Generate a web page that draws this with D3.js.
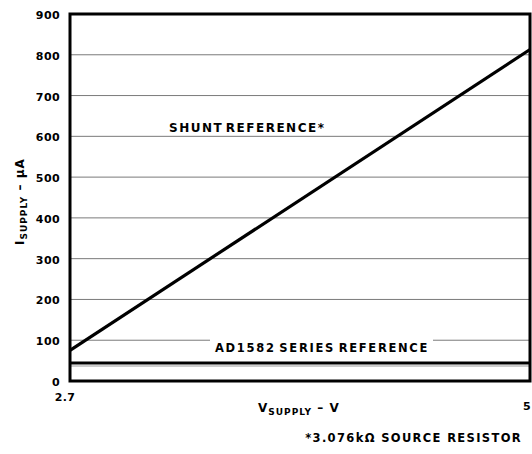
<!DOCTYPE html>
<html><head><meta charset="utf-8">
<script src="https://cdn.jsdelivr.net/npm/d3@7"></script>
<style>
body{margin:0;background:#fff;}
text{font-family:"DejaVu Sans",sans-serif;font-weight:bold;fill:#000;}
</style></head>
<body>
<svg id="c" width="532" height="454"></svg>
<script>
const yTicks = [0,100,200,300,400,500,600,700,800,900];
const xTicks = [2.7, 5];
const shuntV = [2.7, 5];
const shuntI = [75, 813];
const seriesV = [2.7, 5];
const seriesI = [44, 44];
const seriesShadowI = [38, 38];

const svg = d3.select("#c");
const x = d3.scaleLinear().domain([2.7,5]).range([70,530]);
const y = d3.scaleLinear().domain([0,900]).range([381,14]);

// gridlines
svg.append("g").selectAll("line").data(yTicks.filter(d=>d>0&&d<900)).join("line")
  .attr("x1",x(2.7)).attr("x2",x(5)).attr("y1",d=>y(d)).attr("y2",d=>y(d))
  .attr("stroke","#7a7a7a").attr("stroke-width",1);
svg.append("line").datum(seriesShadowI[0])
  .attr("x1",x(seriesV[0])).attr("x2",x(seriesV[1])).attr("y1",d=>y(d)+0.5).attr("y2",d=>y(d)+0.5)
  .attr("stroke","#9a9a9a").attr("stroke-width",1);

// y tick labels
svg.append("g").selectAll("text").data(yTicks).join("text")
  .attr("x",60).attr("y",d=>y(d)+5).attr("text-anchor","end")
  .style("font-size","11px").style("letter-spacing","0.4px").text(d=>d);

// x tick labels
svg.append("text").attr("x",x(xTicks[0])-5).attr("y",401).attr("text-anchor","middle")
  .style("font-size","11px").style("letter-spacing","0.4px").text(xTicks[0]);
svg.append("text").attr("x",x(xTicks[1])+1).attr("y",410).attr("text-anchor","end")
  .style("font-size","11px").style("letter-spacing","0.4px").text(xTicks[1]);

// series line
const line = d3.line().x(d=>x(d[0])).y(d=>y(d[1]));
svg.append("path").datum(seriesV.map((v,i)=>[v,seriesI[i]])).attr("d",line)
  .attr("fill","none").attr("stroke","#000").attr("stroke-width",3);
// shunt line
svg.append("path").datum(shuntV.map((v,i)=>[v,shuntI[i]])).attr("d",line)
  .attr("fill","none").attr("stroke","#000").attr("stroke-width",3.2);

// labels
svg.append("rect").attr("x",210).attr("y",336).attr("width",223).attr("height",16).attr("fill","#fff");
svg.append("text").attr("x",215).attr("y",352).style("font-size","11.5px").style("letter-spacing","1.7px").style("word-spacing","-2px")
  .text("AD1582 SERIES REFERENCE");
svg.append("text").attr("x",169).attr("y",132).style("font-size","12px").style("letter-spacing","1.5px").style("word-spacing","-3px")
  .text("SHUNT REFERENCE*");

// frame
svg.append("rect").attr("x",x(2.7)).attr("y",y(900)).attr("width",x(5)-x(2.7)).attr("height",y(0)-y(900))
  .attr("fill","none").attr("stroke","#000").attr("stroke-width",3);

// axis titles
const xt = svg.append("text").attr("x",258).attr("y",412).style("font-size","12px").style("letter-spacing","1px");
xt.append("tspan").text("V");
xt.append("tspan").attr("dy",3).style("font-size","9px").text("SUPPLY");
xt.append("tspan").attr("dy",-3).text(" – V");

const yt = svg.append("text").attr("transform","translate(24,245) rotate(-90)").style("font-size","12px").style("letter-spacing","1px");
yt.append("tspan").text("I");
yt.append("tspan").attr("dy",3).style("font-size","9px").text("SUPPLY");
yt.append("tspan").attr("dy",-3).text(" – μA");

svg.append("text").attr("x",522).attr("y",442).attr("text-anchor","end")
  .style("font-size","11.5px").style("letter-spacing","1.35px").text("*3.076kΩ SOURCE RESISTOR");
</script>
</body></html>
